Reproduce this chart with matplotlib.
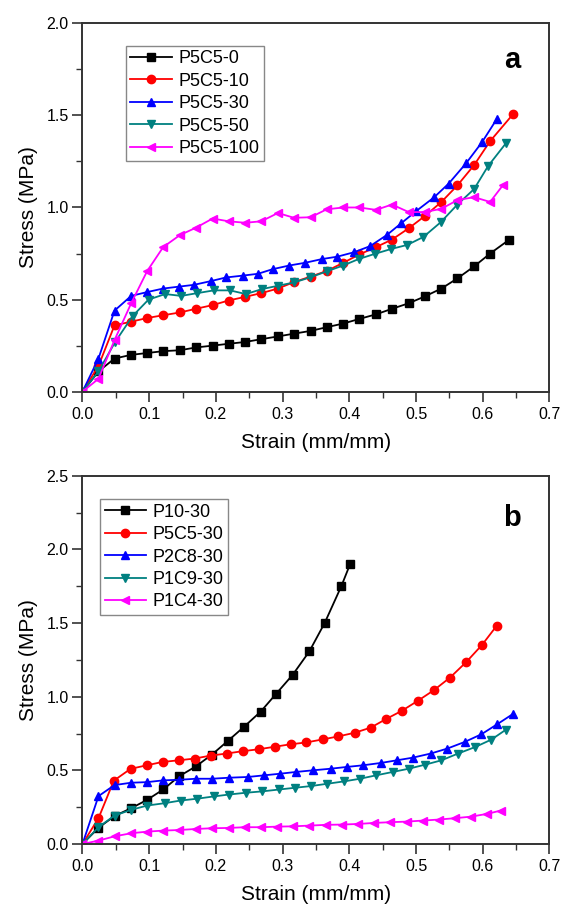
import matplotlib
matplotlib.use("Agg")
import matplotlib.pyplot as plt
from matplotlib.ticker import MultipleLocator

plt.rcParams['font.family'] = ['Liberation Sans', 'DejaVu Sans']

# ---- panel a ----
x_a0 = [0, 0.024, 0.048, 0.073, 0.097, 0.121, 0.146, 0.170, 0.195, 0.219, 0.244, 0.268, 0.293,
        0.317, 0.342, 0.366, 0.391, 0.415, 0.440, 0.464, 0.489, 0.513, 0.538, 0.562, 0.587, 0.611, 0.64]
y_a0 = [0, 0.11, 0.18, 0.20, 0.21, 0.22, 0.225, 0.24, 0.25, 0.26, 0.27, 0.285, 0.30,
        0.315, 0.33, 0.35, 0.37, 0.395, 0.42, 0.45, 0.48, 0.517, 0.56, 0.615, 0.68, 0.75, 0.826]

x_a10 = [0, 0.024, 0.048, 0.073, 0.097, 0.121, 0.146, 0.170, 0.195, 0.219, 0.244, 0.268, 0.293,
         0.317, 0.342, 0.366, 0.391, 0.415, 0.440, 0.464, 0.489, 0.513, 0.538, 0.562, 0.587, 0.611, 0.645]
y_a10 = [0, 0.14, 0.36, 0.38, 0.40, 0.415, 0.43, 0.45, 0.47, 0.495, 0.515, 0.535, 0.56,
         0.595, 0.625, 0.655, 0.70, 0.745, 0.785, 0.826, 0.887, 0.953, 1.03, 1.12, 1.23, 1.36, 1.505]

x_a30 = [0, 0.024, 0.048, 0.073, 0.096, 0.121, 0.144, 0.167, 0.192, 0.215, 0.240, 0.263, 0.285,
         0.310, 0.334, 0.359, 0.382, 0.407, 0.431, 0.456, 0.478, 0.500, 0.527, 0.549, 0.575, 0.599, 0.621]
y_a30 = [0, 0.18, 0.44, 0.52, 0.54, 0.56, 0.57, 0.58, 0.60, 0.62, 0.63, 0.64, 0.665,
         0.685, 0.70, 0.72, 0.733, 0.757, 0.79, 0.85, 0.915, 0.98, 1.055, 1.13, 1.24, 1.355, 1.48]

x_a50 = [0, 0.024, 0.049, 0.075, 0.099, 0.124, 0.148, 0.172, 0.197, 0.221, 0.245, 0.269, 0.293,
         0.317, 0.341, 0.366, 0.390, 0.414, 0.438, 0.463, 0.487, 0.511, 0.537, 0.562, 0.587, 0.608, 0.635]
y_a50 = [0, 0.11, 0.27, 0.41, 0.50, 0.53, 0.52, 0.535, 0.55, 0.55, 0.53, 0.557, 0.575,
         0.593, 0.62, 0.653, 0.684, 0.72, 0.748, 0.775, 0.797, 0.84, 0.92, 1.016, 1.10, 1.225, 1.35]

x_a100 = [0, 0.024, 0.048, 0.073, 0.097, 0.121, 0.146, 0.170, 0.195, 0.219, 0.244, 0.268, 0.293,
          0.317, 0.342, 0.366, 0.391, 0.415, 0.440, 0.464, 0.489, 0.513, 0.538, 0.562, 0.587, 0.611, 0.63]
y_a100 = [0, 0.07, 0.28, 0.48, 0.655, 0.785, 0.85, 0.89, 0.94, 0.925, 0.917, 0.925, 0.97,
          0.944, 0.947, 0.99, 1.0, 1.0, 0.987, 1.016, 0.975, 0.975, 0.993, 1.04, 1.056, 1.03, 1.12]

labels_a = ["P5C5-0", "P5C5-10", "P5C5-30", "P5C5-50", "P5C5-100"]

# ---- panel b ----
x_b1 = [0, 0.024, 0.048, 0.073, 0.097, 0.121, 0.145, 0.170, 0.194, 0.218, 0.242, 0.267, 0.290,
        0.315, 0.340, 0.363, 0.388, 0.401]
y_b1 = [0, 0.11, 0.19, 0.243, 0.30, 0.37, 0.46, 0.527, 0.607, 0.70, 0.795, 0.898, 1.018,
        1.148, 1.307, 1.50, 1.75, 1.898]

x_b2 = [0, 0.024, 0.047, 0.072, 0.096, 0.120, 0.144, 0.168, 0.192, 0.216, 0.240, 0.264, 0.288,
        0.312, 0.335, 0.360, 0.383, 0.408, 0.432, 0.455, 0.479, 0.503, 0.527, 0.551, 0.575, 0.599, 0.621]
y_b2 = [0, 0.175, 0.43, 0.51, 0.534, 0.557, 0.568, 0.58, 0.60, 0.614, 0.63, 0.643, 0.66,
        0.677, 0.689, 0.71, 0.73, 0.755, 0.79, 0.848, 0.905, 0.973, 1.045, 1.13, 1.234, 1.352, 1.482]

x_b3 = [0, 0.024, 0.048, 0.073, 0.097, 0.121, 0.145, 0.170, 0.194, 0.220, 0.248, 0.272, 0.296,
        0.320, 0.345, 0.372, 0.396, 0.420, 0.447, 0.471, 0.495, 0.522, 0.547, 0.573, 0.598, 0.622, 0.645]
y_b3 = [0, 0.325, 0.40, 0.416, 0.42, 0.432, 0.436, 0.443, 0.443, 0.45, 0.455, 0.466, 0.477,
        0.489, 0.50, 0.511, 0.523, 0.534, 0.55, 0.568, 0.586, 0.614, 0.648, 0.693, 0.745, 0.814, 0.882]

x_b4 = [0, 0.024, 0.048, 0.073, 0.097, 0.123, 0.147, 0.171, 0.197, 0.220, 0.245, 0.269, 0.295,
        0.319, 0.342, 0.367, 0.392, 0.416, 0.440, 0.465, 0.489, 0.514, 0.538, 0.563, 0.589, 0.613, 0.635]
y_b4 = [0, 0.114, 0.193, 0.232, 0.261, 0.277, 0.295, 0.307, 0.323, 0.336, 0.348, 0.357, 0.37,
        0.382, 0.393, 0.409, 0.425, 0.443, 0.466, 0.489, 0.511, 0.539, 0.568, 0.614, 0.659, 0.709, 0.777]

x_b5 = [0, 0.024, 0.048, 0.073, 0.097, 0.121, 0.145, 0.170, 0.194, 0.219, 0.243, 0.268, 0.292,
        0.316, 0.340, 0.365, 0.389, 0.413, 0.437, 0.461, 0.486, 0.510, 0.534, 0.558, 0.583, 0.607, 0.627]
y_b5 = [0, 0.023, 0.052, 0.073, 0.084, 0.091, 0.095, 0.102, 0.107, 0.109, 0.114, 0.114, 0.118,
        0.12, 0.125, 0.13, 0.132, 0.136, 0.143, 0.148, 0.152, 0.159, 0.166, 0.175, 0.186, 0.205, 0.227]

labels_b = ["P10-30", "P5C5-30", "P2C8-30", "P1C9-30", "P1C4-30"]

colors = ["#000000", "#ff0000", "#0000ff", "#008080", "#ff00ff"]
markers = ["s", "o", "^", "v", "<"]

fig = plt.figure(figsize=(5.63, 9.09), dpi=100)
ax1 = fig.add_axes([0.1465, 0.5691, 0.8295, 0.4053])
ax2 = fig.add_axes([0.1465, 0.0715, 0.8295, 0.4052])

series_a = [(x_a0, y_a0), (x_a10, y_a10), (x_a30, y_a30), (x_a50, y_a50), (x_a100, y_a100)]
series_b = [(x_b1, y_b1), (x_b2, y_b2), (x_b3, y_b3), (x_b4, y_b4), (x_b5, y_b5)]


def style_axes(ax, ymax, lab, lab_y, leg_anchor):
    ax.set_xlim(0, 0.7)
    ax.set_ylim(0, ymax)
    ax.xaxis.set_major_locator(MultipleLocator(0.1))
    ax.xaxis.set_minor_locator(MultipleLocator(0.05))
    ax.yaxis.set_major_locator(MultipleLocator(0.5))
    ax.yaxis.set_minor_locator(MultipleLocator(0.25))
    ax.tick_params(which='major', direction='out', length=7, width=1.2, labelsize=11.5,
                   pad=3, top=False, right=False, color='#333333')
    ax.tick_params(axis='x', which='major', pad=4)
    ax.tick_params(which='minor', direction='out', length=4, width=1.0,
                   top=False, right=False, color='#333333')
    for s in ax.spines.values():
        s.set_linewidth(1.4)
        s.set_color('#333333')
    ax.set_xlabel("Strain (mm/mm)", fontsize=15, labelpad=8)
    ax.set_ylabel("Stress (MPa)", fontsize=15, labelpad=6)
    ax.text(0.92, lab_y, lab, transform=ax.transAxes, fontsize=21, fontweight='bold',
            ha='center', va='center')
    leg = ax.legend(loc='upper left', bbox_to_anchor=leg_anchor, fontsize=13,
                    handlelength=2.3, handletextpad=0.35, labelspacing=0.3,
                    borderpad=0.25, borderaxespad=0, fancybox=False, framealpha=1)
    leg.get_frame().set_edgecolor('#888888')
    leg.get_frame().set_linewidth(1.0)


for (xs, ys), c, m, l in zip(series_a, colors, markers, labels_a):
    ax1.plot(xs, ys, color=c, marker=m, markersize=6, linewidth=1.3, label=l)
style_axes(ax1, 2.0, "a", 0.90, (0.093, 0.939))

for (xs, ys), c, m, l in zip(series_b, colors, markers, labels_b):
    ax2.plot(xs, ys, color=c, marker=m, markersize=6, linewidth=1.3, label=l)
style_axes(ax2, 2.5, "b", 0.885, (0.0375, 0.936))

fig.savefig("out.png", dpi=100)
